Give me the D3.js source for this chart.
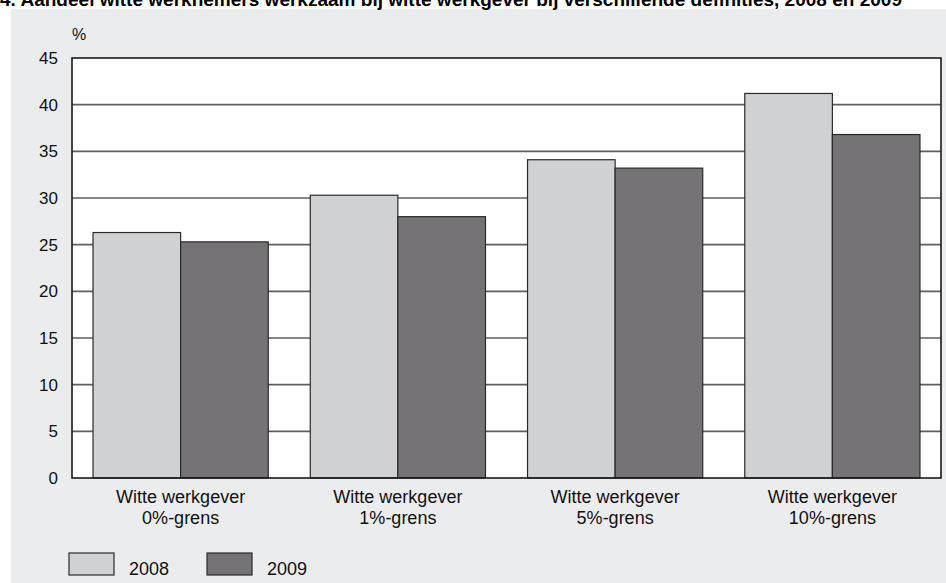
<!DOCTYPE html>
<html lang="nl">
<head>
<meta charset="UTF-8">
<title>Aandeel witte werknemers</title>
<style>
    body { margin: 0; padding: 0; overflow: hidden; background: #fff; }
    svg { display: block; font-family: "Liberation Sans", Arial, sans-serif; }
</style>
</head>
<body>
<svg id="chart"></svg>
<script src="https://cdn.jsdelivr.net/npm/d3@7"></script>
<script>
    // data
    const categories = [["Witte werkgever", "0%-grens"], ["Witte werkgever", "1%-grens"],
        ["Witte werkgever", "5%-grens"], ["Witte werkgever", "10%-grens"]];
    const years = ["2008", "2009"];
    const values2008 = [26.3, 30.3, 34.1, 41.2];
    const values2009 = [25.3, 28.0, 33.2, 36.8];
    const yTicks = [0, 5, 10, 15, 20, 25, 30, 35, 40, 45];
    const title = "4. Aandeel witte werknemers werkzaam bij witte werkgever bij verschillende definities, 2008 en 2009";

    const w = 946, h = 583;
    const colors = {"2008": "#d0d1d3", "2009": "#767377"};
    const margin = {top: 58, right: 5, bottom: 105, left: 72};

    const svg = d3.select("#chart").attr("width", w).attr("height", h);

    // grey panel
    svg.append("rect").attr("x", 11).attr("y", 9).attr("width", w - 11).attr("height", h - 9)
        .attr("fill", "#ebecee");

    // title, top is cut off like in the original
    svg.append("text").attr("x", 0).attr("y", 6)
        .attr("font-size", 19).attr("font-weight", "bold").attr("fill", "#000")
        .attr("textLength", 902).attr("lengthAdjust", "spacingAndGlyphs")
        .text(title);

    const x0 = d3.scaleBand().domain(d3.range(categories.length))
        .range([margin.left, w - margin.right]).padding(0);
    const x1 = d3.scaleBand().domain(years)
        .range([0, x0.bandwidth()]).paddingOuter(0.24).paddingInner(0);
    const y = d3.scaleLinear().domain([0, 45]).range([h - margin.bottom, margin.top]);

    const plot = svg.append("g");
    plot.append("rect")
        .attr("x", margin.left).attr("y", margin.top)
        .attr("width", w - margin.right - margin.left)
        .attr("height", y(0) - margin.top)
        .attr("fill", "#fff");

    // gridlines
    plot.selectAll(".grid").data(yTicks.filter(d => d > 0 && d < 45)).enter()
        .append("line")
        .attr("x1", margin.left).attr("x2", w - margin.right)
        .attr("y1", d => y(d)).attr("y2", d => y(d))
        .attr("stroke", "#5f5f5f").attr("stroke-width", 1.6);

    // bars
    const series = years.map((yr, i) => ({year: yr, vals: i === 0 ? values2008 : values2009}));
    series.forEach(s => {
        plot.selectAll(".bar-" + s.year).data(s.vals).enter()
            .append("rect")
            .attr("x", (d, i) => x0(i) + x1(s.year))
            .attr("y", d => y(d))
            .attr("width", x1.bandwidth())
            .attr("height", d => y(0) - y(d))
            .attr("fill", colors[s.year])
            .attr("stroke", "#2a2a2a").attr("stroke-width", 1.2);
    });

    // frame
    plot.append("rect")
        .attr("x", margin.left).attr("y", margin.top)
        .attr("width", w - margin.right - margin.left)
        .attr("height", y(0) - margin.top)
        .attr("fill", "none").attr("stroke", "#1a1a1a").attr("stroke-width", 1.6);

    // y axis labels
    const yAxis = d3.axisLeft(y).tickValues(yTicks).tickSize(0).tickPadding(14);
    const ya = svg.append("g").attr("transform", `translate(${margin.left},0)`).call(yAxis);
    ya.select(".domain").remove();
    ya.selectAll("text").attr("font-size", 17).attr("font-family", "Liberation Sans, Arial, sans-serif")
        .attr("fill", "#111");

    svg.append("text").attr("x", 72).attr("y", 40).attr("font-size", 16).attr("fill", "#111").text("%");

    // x labels
    const xl = svg.append("g").selectAll("text").data(categories).enter()
        .append("text")
        .attr("text-anchor", "middle")
        .attr("font-size", 18).attr("fill", "#111")
        .attr("transform", (d, i) => `translate(${x0(i) + x0.bandwidth() / 2},${y(0) + 25})`);
    xl.selectAll("tspan").data(d => d).enter().append("tspan")
        .attr("x", 0).attr("dy", (d, i) => i === 0 ? 0 : 21).text(d => d);

    // legend
    const leg = svg.append("g").selectAll("g").data(years).enter().append("g")
        .attr("transform", (d, i) => `translate(${69 + i * 138},553)`);
    leg.append("rect").attr("width", 45).attr("height", 22)
        .attr("fill", d => colors[d]).attr("stroke", "#2a2a2a").attr("stroke-width", 1.2);
    leg.append("text").attr("x", 60).attr("y", 22).attr("font-size", 18).attr("fill", "#111").text(d => d);
</script>
</body>
</html>
